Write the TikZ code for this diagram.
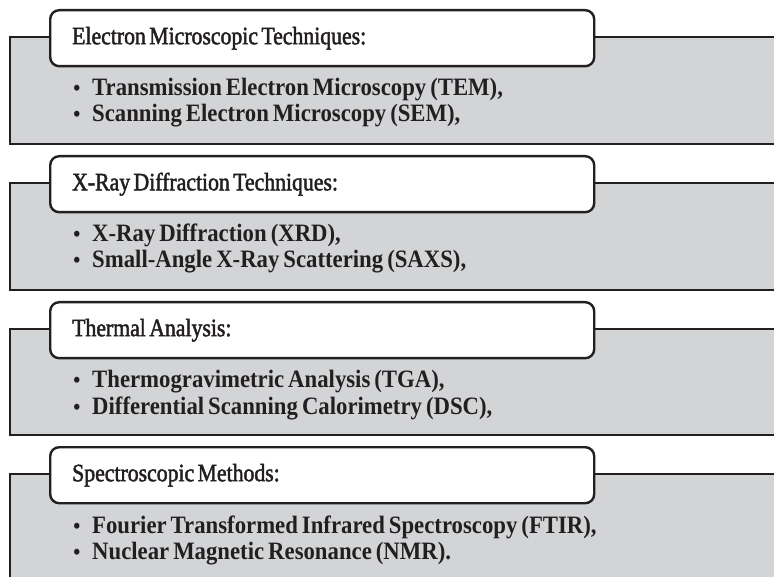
\documentclass[tikz,border=0pt]{standalone}
\usepackage{fontspec}
\setmainfont{Liberation Serif}
\newfontfamily\titlefont{Liberation Serif}[FakeStretch=0.87, FakeBold=1.8]
\newfontfamily\itemfont{Liberation Serif}[FakeStretch=0.91]
\newcommand\mytitlestyle{\titlefont\fontsize{25}{28}\selectfont}
\newcommand\tsp{\spaceskip 3.4pt\relax}
\newcommand\myitemstyle{\itemfont\bfseries\fontsize{25}{26}\selectfont\spaceskip 4pt\relax}
\newcommand\mybulstyle{\itemfont\bfseries\fontsize{22}{26}\selectfont}
\definecolor{ink}{RGB}{35,31,32}
\definecolor{panelgrey}{RGB}{211,212,214}
\tikzset{
  panel/.style={draw=ink, fill=panelgrey, line width=2.4pt},
  titlebox/.style={draw=ink, fill=white, line width=2.4pt, rounded corners=9pt,
    anchor=north west, minimum width=544pt, minimum height=56pt,
    text width=500pt, inner xsep=22pt, align=left, text=ink,
    font=\mytitlestyle},
  itemtext/.style={anchor=base west, inner sep=0pt, text=ink, font=\myitemstyle},
  bul/.style={anchor=base, inner sep=0pt, text=ink, font=\mybulstyle}
}
\begin{document}
\begin{tikzpicture}[x=1pt,y=-1pt]
\useasboundingbox (0,0) rectangle (774,577);
\clip (0,0) rectangle (774,577);
% panel 1
\draw[panel] (10,37) rectangle (800,144);
\node[titlebox] (t1) at (49,9) {\tsp Electron Microscopic Techniques:};
\node[bul] (b11) at (77,96) {•};
\node[itemtext] (i11) at (92,96) {Transmission Electron Microscopy (TEM),};
\node[bul] (b12) at (77,122) {•};
\node[itemtext] (i12) at (92,122) {Scanning Electron Microscopy (SEM),};
% panel 2
\draw[panel] (10,183) rectangle (800,290);
\node[titlebox] (t2) at (49,155) {\tsp X-Ray Diffraction Techniques:};
\node[bul] (b21) at (77,242) {•};
\node[itemtext] (i21) at (92,242) {X-Ray Diffraction (XRD),};
\node[bul] (b22) at (77,268) {•};
\node[itemtext] (i22) at (92,268) {Small-Angle X-Ray Scattering (SAXS),};
% panel 3
\draw[panel] (10,329) rectangle (800,435);
\node[titlebox] (t3) at (49,301) {\tsp Thermal Analysis:};
\node[bul] (b31) at (77,388) {•};
\node[itemtext] (i31) at (92,388) {Thermogravimetric Analysis (TGA),};
\node[bul] (b32) at (77,414) {•};
\node[itemtext] (i32) at (92,414) {Differential Scanning Calorimetry (DSC),};
% panel 4
\draw[panel] (10,474) rectangle (800,620);
\node[titlebox] (t4) at (49,446) {\tsp Spectroscopic Methods:};
\node[bul] (b41) at (77,533) {•};
\node[itemtext] (i41) at (92,533) {Fourier Transformed Infrared Spectroscopy (FTIR),};
\node[bul] (b42) at (77,559) {•};
\node[itemtext] (i42) at (92,559) {Nuclear Magnetic Resonance (NMR).};
\end{tikzpicture}
\end{document}
